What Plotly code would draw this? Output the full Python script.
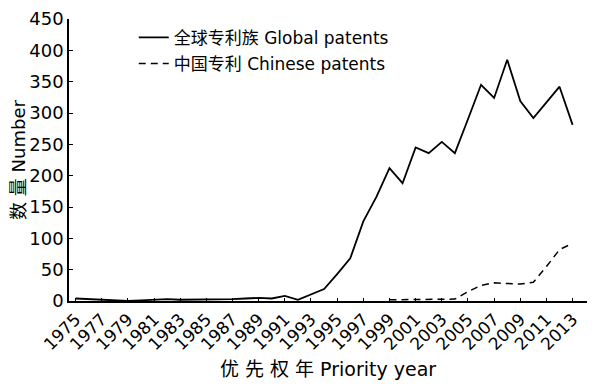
import plotly.graph_objects as go

years = list(range(1975, 2014))
global_patents = [4, 3, 1, 0, 0, 1, 2, 3, 2, 2, 2, 2, 3, 4, 5, 4, 8, 2, 11, 19,
                  43, 68, 127, 166, 212, 188, 245, 236, 254, 236, 290, 345, 324,
                  385, 319, 292, 317, 342, 281]
cn_years = list(range(1999, 2014))
chinese_patents = [2, 2, 2, 2, 2, 3, 15, 25, 29, 28, 27, 30, 55, 82, 92]

tick_years = list(range(1975, 2014, 2))
y_ticks = list(range(0, 451, 50))

FONT = "DejaVu Sans, Noto Sans CJK SC, sans-serif"

fig = go.Figure()
fig.add_trace(go.Scatter(
    x=years, y=global_patents, mode="lines",
    name="全球专利族 Global patents", legendgroup="g1",
    line=dict(color="black", width=1.8),
))
fig.add_trace(go.Scatter(
    x=cn_years, y=chinese_patents, mode="lines",
    name="中国专利 Chinese patents", legendgroup="g2",
    line=dict(color="black", width=1.5, dash="7px,5px"),
))

# page body has an 8px default margin, so the figure is sized to fit the window
fig.update_layout(
    width=589, height=383,
    margin=dict(l=61, r=10, t=11, b=90, autoexpand=False),
    paper_bgcolor="white", plot_bgcolor="white",
    font=dict(family=FONT, color="black"),
    showlegend=True,
    legend=dict(
        x=0.125, y=0.997, xanchor="left", yanchor="top",
        bgcolor="rgba(0,0,0,0)", borderwidth=0,
        font=dict(size=17, family=FONT),
        tracegroupgap=1, itemwidth=30,
    ),
    xaxis=dict(
        range=[1974.5, 2014.1], automargin=False,
        tickmode="array", tickvals=tick_years, ticktext=[str(y) for y in tick_years],
        tickangle=-45, tickfont=dict(size=17),
        showline=True, linecolor="black", linewidth=1.5,
        ticks="inside", ticklen=3, tickcolor="black",
        showgrid=False, zeroline=False,
        title=dict(text="优 先 权 年 Priority year", font=dict(size=19), standoff=10),
    ),
    yaxis=dict(
        range=[0, 450], automargin=False,
        tickmode="array", tickvals=y_ticks,
        tickfont=dict(size=18),
        showline=True, linecolor="black", linewidth=1.5,
        ticks="inside", ticklen=4, tickcolor="black",
        showgrid=False, zeroline=False,
        title=dict(text="数 量 Number", font=dict(size=18), standoff=2),
    ),
)

fig.write_html("out.html")
